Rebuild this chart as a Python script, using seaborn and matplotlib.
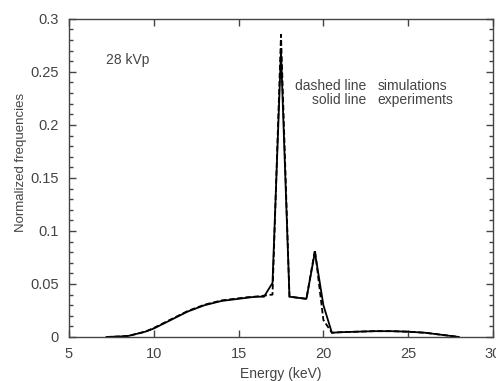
import matplotlib as mpl
mpl.use("Agg")

import matplotlib.pyplot as plt
import seaborn as sns
import pandas as pd
from matplotlib.ticker import MultipleLocator, FixedLocator

sns.set_style("ticks")
plt.rcParams["font.family"] = ["Liberation Sans", "DejaVu Sans"]

# spectrum values (keV, normalized frequency)
energy_exp = [7.2, 8.0, 8.5, 9.0, 9.5, 10.0, 10.5, 11.0, 11.5, 12.0, 12.5, 13.0,
              13.5, 14.0, 14.5, 15.0, 15.5, 16.0, 16.5, 17.0, 17.5, 18.0, 19.0,
              19.5, 20.0, 20.5, 21.0, 22.0, 23.0, 24.0, 25.0, 26.0, 27.0, 28.0]
freq_exp = [0.0, 0.0005, 0.001, 0.003, 0.005, 0.008, 0.012, 0.016, 0.020, 0.024,
            0.027, 0.030, 0.032, 0.034, 0.035, 0.036, 0.037, 0.038, 0.038, 0.051,
            0.269, 0.038, 0.036, 0.080, 0.030, 0.004, 0.0045, 0.005, 0.0055,
            0.0055, 0.005, 0.004, 0.002, 0.0]

energy_sim = [7.2, 8.0, 8.5, 9.0, 9.5, 10.0, 10.5, 11.0, 11.5, 12.0, 12.5, 13.0,
              13.5, 14.0, 14.5, 15.0, 15.5, 16.0, 16.5, 17.0, 17.5, 18.0, 19.0,
              19.5, 20.0, 20.5, 21.0, 22.0, 23.0, 24.0, 25.0, 26.0, 27.0, 28.0]
freq_sim = [0.0, 0.0005, 0.001, 0.003, 0.005, 0.0085, 0.0125, 0.0165, 0.0205,
            0.0245, 0.0275, 0.0305, 0.0325, 0.0345, 0.0355, 0.0365, 0.0375, 0.038,
            0.039, 0.040, 0.285, 0.038, 0.036, 0.082, 0.016, 0.004, 0.0045, 0.005,
            0.0055, 0.0055, 0.005, 0.004, 0.002, 0.0]

y_ticks = [0, 0.05, 0.1, 0.15, 0.2, 0.25, 0.3]
y_tick_labels = ["0", "0.05", "0.1", "0.15", "0.2", "0.25", "0.3"]

df = pd.concat([
    pd.DataFrame({"energy": energy_sim, "freq": freq_sim, "kind": "simulations"}),
    pd.DataFrame({"energy": energy_exp, "freq": freq_exp, "kind": "experiments"}),
])

grey = "#444444"
fig = plt.figure(figsize=(4.96, 3.81), dpi=100)
ax = fig.add_axes([0.139, 0.1155, 0.855, 0.835])

sns.lineplot(
    ax=ax,
    data=df,
    x="energy",
    y="freq",
    style="kind",
    style_order=["experiments", "simulations"],
    dashes={"experiments": "", "simulations": (3, 1.5)},
    color="black",
    linewidth=1.3,
    sort=False,
    estimator=None,
    legend=False,
)

ax.set_xlim(5, 30)
ax.set_ylim(0, 0.3)
ax.xaxis.set_major_locator(MultipleLocator(5))
ax.yaxis.set_major_locator(FixedLocator(y_ticks))
ax.yaxis.set_minor_locator(MultipleLocator(0.01))
ax.set_yticklabels(y_tick_labels)
ax.tick_params(which="both", direction="in", top=True, right=True,
               colors=grey, labelcolor=grey, labelsize=10.5, width=1, pad=7.5)
ax.tick_params(which="major", length=5)
ax.tick_params(which="minor", length=3)
for s in ax.spines.values():
    s.set_color(grey)
    s.set_linewidth(1)

ax.set_xlabel("Energy (keV)", fontsize=10, color=grey, labelpad=4)
ax.set_ylabel("Normalized frequencies", fontsize=9.5, color=grey, labelpad=5)
ax.yaxis.set_label_coords(-0.1, 0.55)

ax.text(7.2, 0.261, "28 kVp", fontsize=10, color=grey, va="center")
ax.text(22.5, 0.2368, "dashed line", fontsize=10, color=grey, ha="right", va="center")
ax.text(22.5, 0.2236, "solid line", fontsize=10, color=grey, ha="right", va="center")
ax.text(23.2, 0.2368, "simulations", fontsize=10, color=grey, ha="left", va="center")
ax.text(23.2, 0.2236, "experiments", fontsize=10, color=grey, ha="left", va="center")

fig.savefig("out.png", dpi=100)
